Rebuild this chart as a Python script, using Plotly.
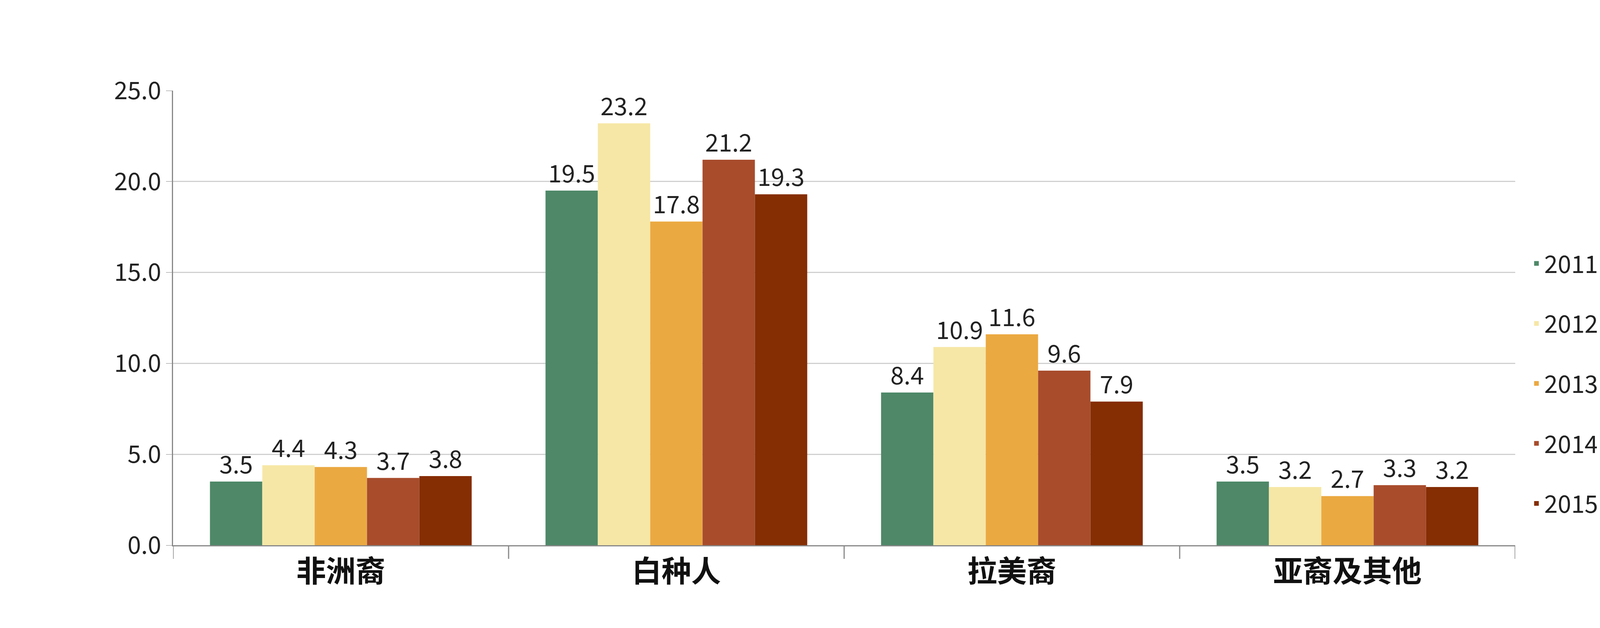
import plotly.graph_objects as go

categories = ["非洲裔", "白种人", "拉美裔", "亚裔及其他"]
years = ["2011", "2012", "2013", "2014", "2015"]
values = {
    "2011": [3.5, 19.5, 8.4, 3.5],
    "2012": [4.4, 23.2, 10.9, 3.2],
    "2013": [4.3, 17.8, 11.6, 2.7],
    "2014": [3.7, 21.2, 9.6, 3.3],
    "2015": [3.8, 19.3, 7.9, 3.2],
}
colors = ["#4E8868", "#F6E7A6", "#EBA941", "#A84C2C", "#852D03"]

fig = go.Figure()
for y, c in zip(years, colors):
    fig.add_trace(go.Bar(
        x=categories, y=values[y], name=y, legendgroup=y,
        marker=dict(color=c, line=dict(width=0)),
        text=[f"{v:.1f}" for v in values[y]], textposition="outside", cliponaxis=False,
        textfont=dict(size=62, color="#222"),
    ))

shapes = []
for i in range(5):
    shapes.append(dict(type="line", xref="x", yref="paper", x0=i - 0.5, x1=i - 0.5,
                       y0=0, y1=-0.03, line=dict(color="#888", width=3)))

fig.update_layout(
    width=4398, height=1608, paper_bgcolor="white", plot_bgcolor="white",
    margin=dict(l=435, r=527, t=224, b=220),
    barmode="group", bargap=0.22, bargroupgap=0,
    font=dict(family="Noto Sans CJK SC, Noto Sans, sans-serif", color="#222"),
    xaxis=dict(showline=True, linecolor="#888", linewidth=3, ticks="",
               tickfont=dict(size=76, family="Noto Sans CJK SC", weight="bold", color="#111"),
               range=[-0.5, 3.5]),
    yaxis=dict(range=[0, 25], dtick=5, tickformat=".1f", showgrid=True, gridcolor="#d0d0d0",
               gridwidth=3, showline=True, linecolor="#888", linewidth=3, ticks="outside",
               ticklen=15, tickcolor="#888", tickfont=dict(size=62), zeroline=False),
    legend=dict(x=1.01, y=0.66, xanchor="left", yanchor="top", font=dict(size=62),
                tracegroupgap=70, itemsizing="constant"),
    shapes=shapes,
    showlegend=True,
)
fig.write_html("out.html")
